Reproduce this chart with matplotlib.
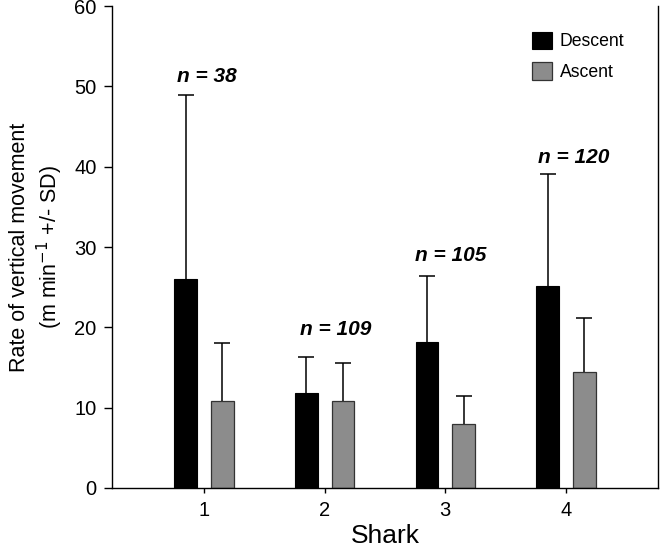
import matplotlib
matplotlib.use("Agg")
import matplotlib.pyplot as plt
import numpy as np

plt.rcParams['font.family'] = ['Liberation Sans', 'DejaVu Sans']

sharks = ["1", "2", "3", "4"]
descent = [26.0, 11.8, 18.2, 25.2]
descent_upper = [48.9, 16.3, 26.4, 39.1]
ascent = [10.8, 10.8, 8.0, 14.5]
ascent_upper = [18.1, 15.6, 11.5, 21.2]
n_labels = ["n = 38", "n = 109", "n = 105", "n = 120"]
n_label_dx = [0.025, 0.095, 0.045, 0.06]
n_label_y = [51.2, 19.7, 29.0, 41.2]

fig = plt.figure(figsize=(6.61, 5.52), dpi=100)
ax = fig.add_axes([0.1694, 0.116, 0.826, 0.873])

x = np.arange(1, len(sharks) + 1)
w = 0.19
off = 0.152
d_err = np.array(descent_upper) - np.array(descent)
a_err = np.array(ascent_upper) - np.array(ascent)
ekw = dict(ecolor='black', elinewidth=1.1, capthick=1.1)
b1 = ax.bar(x - off, descent, w, color='black', edgecolor='black', linewidth=0.8,
            yerr=[np.zeros(4), d_err], capsize=6, error_kw=ekw, label='Descent', zorder=2)
b2 = ax.bar(x + off, ascent, w, color='#8c8c8c', edgecolor='#333333', linewidth=0.9,
            yerr=[np.zeros(4), a_err], capsize=6, error_kw=ekw, label='Ascent', zorder=2)
for b in (b1, b2):
    caps = b.errorbar.lines[1]
    if len(caps) == 2:
        caps[0].set_visible(False)

for xi, lab, dx, yy in zip(x, n_labels, n_label_dx, n_label_y):
    ax.text(xi + dx, yy, lab, ha='center', va='center', fontsize=15,
            fontstyle='italic', fontweight='bold')

ax.set_xlim(0.238, 4.762)
ax.set_ylim(0, 60)
ax.set_xticks(x)
ax.set_xticklabels(sharks)
ax.set_yticks(np.arange(0, 61, 10))
ax.tick_params(axis='y', direction='out', length=6, width=1, labelsize=14.5, pad=5)
ax.tick_params(axis='x', direction='out', length=3.6, width=1, labelsize=14.5, pad=6)
ax.spines['top'].set_visible(False)
for s in ['left', 'bottom', 'right']:
    ax.spines[s].set_linewidth(1.0)

ax.set_xlabel('Shark', fontsize=19, labelpad=3)
ax.set_ylabel('Rate of vertical movement\n(m min$^{-1}$ +/- SD)', fontsize=15.5, labelpad=7,
              linespacing=1.2)

leg = ax.legend(loc='upper left', bbox_to_anchor=(0.769, 0.947), frameon=False,
                fontsize=12.7, handlelength=1.13, handleheight=1.13, handletextpad=0.45,
                labelspacing=0.68, borderpad=0, borderaxespad=0)

fig.savefig('out.png', dpi=100)
